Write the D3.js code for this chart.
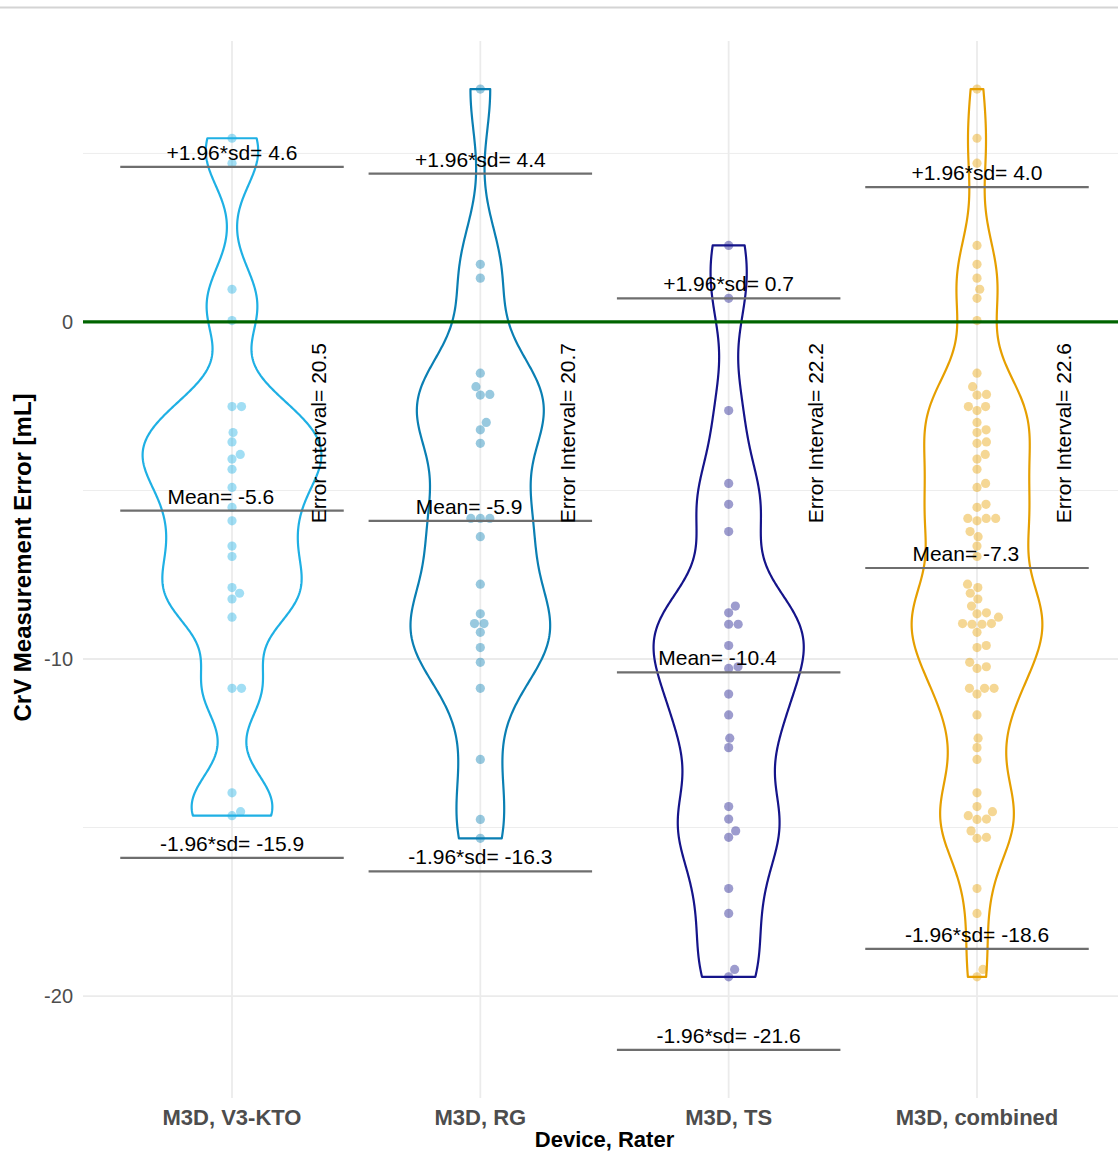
<!DOCTYPE html>
<html>
<head>
<meta charset="utf-8">
<script src="https://cdn.jsdelivr.net/npm/d3@7"></script>
<style>
  body { margin: 0; background: #fff; }
  svg { display: block; }
  text { font-family: "Liberation Sans", Arial, Helvetica, sans-serif; }
</style>
</head>
<body>
<svg id="chart" width="1118" height="1153"></svg>
<script>
// ---- data -------------------------------------------------------------
const categories = ["M3D, V3-KTO", "M3D, RG", "M3D, TS", "M3D, combined"];

// CrV measurement error [mL] per rater
const errV3KTO = [5.45, 4.71, 0.97, 0.04, -2.51, -2.51, -3.28, -3.56, -3.93, -4.07,
  -4.37, -4.91, -5.50, -5.90, -6.65, -6.96, -7.88, -8.05, -8.22, -8.76,
  -10.87, -10.87, -13.97, -14.65, -14.53];
const errRG = [6.91, 1.71, 1.30, -1.52, -1.92, -2.17, -2.15, -2.98, -3.20, -3.60,
  -5.83, -5.83, -5.83, -6.37, -7.78, -8.66, -8.95, -8.95, -9.21, -9.66,
  -10.10, -10.87, -12.98, -14.76, -15.32];
const errTS = [2.27, 0.70, -2.63, -4.79, -5.41, -6.22, -8.43, -8.63, -8.97, -8.97,
  -9.60, -10.28, -10.23, -11.04, -11.66, -12.35, -12.63, -14.38, -14.75, -15.10,
  -15.29, -16.81, -17.55, -19.21, -19.43];
// the combined group pools all three raters
const errCombined = [...errV3KTO, ...errRG, ...errTS];

// Bland-Altman style summary per group
const upperLimit = [4.6, 4.4, 0.7, 4.0];
const meanError = [-5.6, -5.9, -10.4, -7.3];
const lowerLimit = [-15.9, -16.3, -21.6, -18.6];
const errorInterval = [20.5, 20.7, 22.2, 22.6];

const yMajorTicks = [0, -10, -20];
const yMinorTicks = [5, -5, -15];

// ---- styling ------------------------------------------------------------
const lineColors = ["#1fb0e4", "#0a7fb3", "#15148a", "#e69f00"];
const W = 1118, H = 1153;
const panel = { left: 83, right: 1126, top: 41, bottom: 1098 };

const loc = d3.formatLocale({ decimal: ".", thousands: ",", grouping: [3], currency: ["", ""], minus: "-" });
const fmt = loc.format(".1f");
const fmtInt = loc.format("d");

const svg = d3.select("#chart");
const groups = [errV3KTO, errRG, errTS, errCombined];

// ---- scales -------------------------------------------------------------
const allVals = groups.flat().concat(upperLimit, lowerLimit);
const lo = d3.min(allVals), hi = d3.max(allVals);
const pad = 0.05 * (hi - lo);
const y = d3.scaleLinear().domain([lo - pad, hi + pad]).range([panel.bottom, panel.top]);
const x = d3.scalePoint().domain(categories).range([panel.left, panel.right]).padding(0.6);
const step = x.step();

// page rule across the top
svg.append("line").attr("x1", 0).attr("x2", W).attr("y1", 7.5).attr("y2", 7.5)
  .attr("stroke", "#d4d4d4").attr("stroke-width", 2);

const plot = svg.append("g");

// ---- grid -------------------------------------------------------------
plot.selectAll("line.minor").data(yMinorTicks).join("line")
  .attr("x1", panel.left).attr("x2", panel.right)
  .attr("y1", d => y(d)).attr("y2", d => y(d))
  .attr("stroke", "#ededed").attr("stroke-width", 1);
plot.selectAll("line.major").data(yMajorTicks).join("line")
  .attr("x1", panel.left).attr("x2", panel.right)
  .attr("y1", d => y(d)).attr("y2", d => y(d))
  .attr("stroke", "#ebebeb").attr("stroke-width", 1.8);
plot.selectAll("line.vgrid").data(categories).join("line")
  .attr("x1", d => x(d)).attr("x2", d => x(d))
  .attr("y1", panel.top).attr("y2", panel.bottom)
  .attr("stroke", "#ebebeb").attr("stroke-width", 1.8);

// ---- violins (gaussian KDE, reduced bandwidth, trimmed, equal area) ----
const bwAdjust = 0.56;
function bwNrd0(v) {
  const s = d3.deviation(v);
  const sorted = v.slice().sort(d3.ascending);
  const iqr = d3.quantileSorted(sorted, 0.75) - d3.quantileSorted(sorted, 0.25);
  const m = Math.min(s, iqr / 1.34);
  return 0.9 * m * Math.pow(v.length, -0.2);
}
function kde(v) {
  const bw = bwNrd0(v) * bwAdjust;
  const [a, b] = d3.extent(v);
  const n = 512;
  const out = [];
  for (let i = 0; i < n; i++) {
    const t = a + (b - a) * i / (n - 1);
    let s = 0;
    for (const xi of v) { const u = (t - xi) / bw; s += Math.exp(-0.5 * u * u); }
    out.push([t, s / (v.length * bw * Math.sqrt(2 * Math.PI))]);
  }
  return out;
}
const dens = groups.map(kde);
const maxDens = d3.max(dens, d => d3.max(d, e => e[1]));
const violinWidth = 0.72; // in category steps

dens.forEach((d, i) => {
  const cx = x(categories[i]);
  const hw = e => e[1] / maxDens * violinWidth / 2 * step;
  const pts = d.map(e => [cx - hw(e), y(e[0])])
    .concat(d.slice().reverse().map(e => [cx + hw(e), y(e[0])]));
  plot.append("path")
    .attr("d", d3.line()(pts) + "Z")
    .attr("fill", "none")
    .attr("stroke", lineColors[i])
    .attr("stroke-width", 2.2)
    .attr("stroke-linejoin", "round");
});

// ---- beeswarm points ----------------------------------------------------
const dotD = 9.5;
function swarm(values) {
  const pts = values.map(v => ({ v, py: y(v), dx: 0 }));
  const order = pts.slice().sort((a, b) => a.v - b.v);
  const placed = [];
  for (const p of order) {
    const near = placed.filter(q => Math.abs(q.py - p.py) < dotD);
    const cands = [0];
    for (const q of near) {
      const off = Math.sqrt(dotD * dotD - (q.py - p.py) ** 2);
      cands.push(q.dx + off, q.dx - off);
    }
    cands.sort((a, b) => (Math.abs(a) - Math.abs(b)) || (b - a));
    for (const c of cands) {
      if (near.every(q => (q.dx - c) ** 2 + (q.py - p.py) ** 2 >= dotD * dotD - 1e-6)) { p.dx = c; break; }
    }
    placed.push(p);
  }
  return pts;
}
groups.forEach((g, i) => {
  const cx = x(categories[i]);
  plot.append("g").selectAll("circle").data(swarm(g)).join("circle")
    .attr("cx", d => cx + d.dx)
    .attr("cy", d => d.py)
    .attr("r", 4.6)
    .attr("fill", lineColors[i])
    .attr("fill-opacity", 0.42);
});

// ---- zero reference line ----------------------------------------------
plot.append("line")
  .attr("x1", panel.left).attr("x2", panel.right)
  .attr("y1", y(0)).attr("y2", y(0))
  .attr("stroke", "#006400").attr("stroke-width", 3.2);

// ---- limits of agreement and mean -------------------------------------
const halfSeg = 0.45 * step;
const stats = categories.map((c, i) => [
  { v: upperLimit[i], label: "+1.96*sd= " + fmt(upperLimit[i]), shift: 0 },
  { v: meanError[i], label: "Mean= " + fmt(meanError[i]), shift: -0.045 },
  { v: lowerLimit[i], label: "-1.96*sd= " + fmt(lowerLimit[i]), shift: 0 }
].map(s => ({ ...s, c })));
const statRows = stats.flat();

plot.selectAll("line.stat").data(statRows).join("line")
  .attr("x1", d => x(d.c) - halfSeg).attr("x2", d => x(d.c) + halfSeg)
  .attr("y1", d => y(d.v)).attr("y2", d => y(d.v))
  .attr("stroke", "#6e6e6e").attr("stroke-width", 2.2);

plot.selectAll("text.stat").data(statRows).join("text")
  .attr("x", d => x(d.c) + d.shift * step).attr("y", d => y(d.v) - 7)
  .attr("text-anchor", "middle")
  .attr("font-size", 21).attr("fill", "#000")
  .text(d => d.label);

// error interval, written vertically beside each violin
const intervalAt = -3.3;
plot.selectAll("text.interval").data(categories).join("text")
  .attr("transform", (d, i) => `translate(${x(d) + 0.35 * step},${y(intervalAt)}) rotate(-90)`)
  .attr("text-anchor", "middle")
  .attr("dominant-baseline", "central")
  .attr("font-size", 21).attr("fill", "#000")
  .text((d, i) => "Error Interval= " + fmt(errorInterval[i]));

// ---- axes -------------------------------------------------------------
svg.selectAll("text.ytick").data(yMajorTicks).join("text")
  .attr("x", 73).attr("y", d => y(d))
  .attr("text-anchor", "end").attr("dominant-baseline", "central")
  .attr("font-size", 20).attr("fill", "#4d4d4d")
  .text(d => fmtInt(d));

svg.selectAll("text.xtick").data(categories).join("text")
  .attr("x", d => x(d)).attr("y", 1125)
  .attr("text-anchor", "middle")
  .attr("font-size", 22).attr("font-weight", "bold").attr("fill", "#4d4d4d")
  .text(d => d);

svg.append("text")
  .attr("x", (panel.left + panel.right) / 2).attr("y", 1147)
  .attr("text-anchor", "middle")
  .attr("font-size", 22).attr("font-weight", "bold").attr("fill", "#000")
  .text("Device, Rater");

svg.append("text")
  .attr("transform", `translate(31,${(panel.top + panel.bottom) / 2 - 12}) rotate(-90)`)
  .attr("text-anchor", "middle")
  .attr("font-size", 24).attr("font-weight", "bold").attr("fill", "#000")
  .text("CrV Measurement Error [mL]");
</script>
</body>
</html>
